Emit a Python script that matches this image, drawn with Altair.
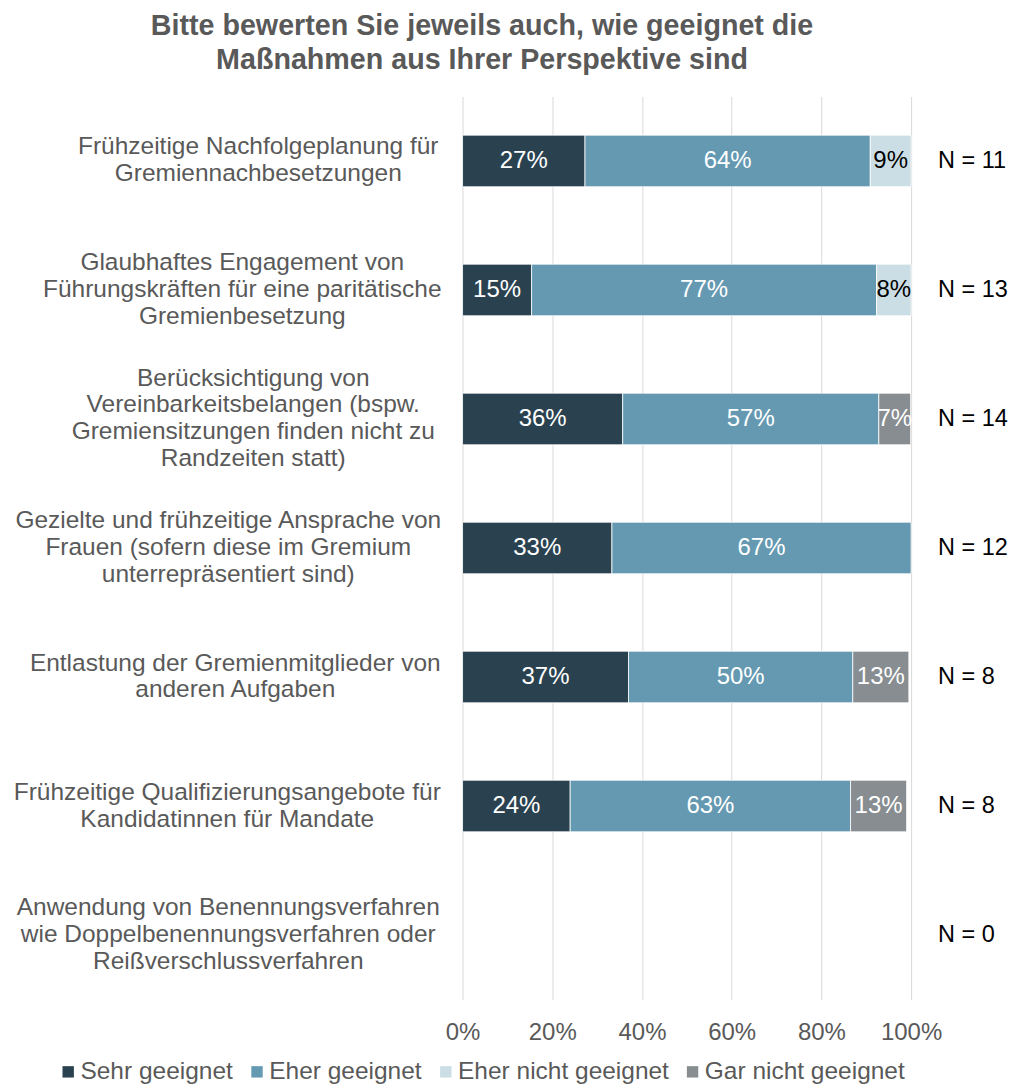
import altair as alt
import pandas as pd

categories = [
    "Frühzeitige Nachfolgeplanung für\nGremiennachbesetzungen",
    "Glaubhaftes Engagement von\nFührungskräften für eine paritätische\nGremienbesetzung",
    "Berücksichtigung von\nVereinbarkeitsbelangen (bspw.\nGremiensitzungen finden nicht zu\nRandzeiten statt)",
    "Gezielte und frühzeitige Ansprache von\nFrauen (sofern diese im Gremium\nunterrepräsentiert sind)",
    "Entlastung der Gremienmitglieder von\nanderen Aufgaben",
    "Frühzeitige Qualifizierungsangebote für\nKandidatinnen für Mandate",
    "Anwendung von Benennungsverfahren\nwie Doppelbenennungsverfahren oder\nReißverschlussverfahren",
]
n_values = [11, 13, 14, 12, 8, 8, 0]

series = ["Sehr geeignet", "Eher geeignet", "Eher nicht geeignet", "Gar nicht geeignet"]
sehr = [27.3, 15.4, 35.7, 33.3, 37.0, 24.0, 0]
eher = [63.6, 76.9, 57.1, 66.7, 50.0, 62.5, 0]
eher_nicht = [9.1, 7.7, 0, 0, 0, 0, 0]
gar_nicht = [0, 0, 7.1, 0, 12.5, 12.5, 0]
colors = ["#2a4250", "#6499b1", "#ccdee5", "#878d90"]

# distance from the plot edge to the centre of each (centre-aligned) label block
label_centre_pad = [205, 221, 210, 235, 228, 236, 235]

rows = []
for s_i, (s_name, vals) in enumerate(zip(series, [sehr, eher, eher_nicht, gar_nicht])):
    for cat, v in zip(categories, vals):
        if v > 0:
            rows.append({"category": cat, "series": s_name, "order": s_i,
                         "value": v / 100.0, "label": f"{int(v + 0.5)}%"})
df = pd.DataFrame(rows)
df_n = pd.DataFrame({"category": categories, "n": [f"N = {n}" for n in n_values]})

FONT = "Liberation Sans"
GRAY = "#595959"
LH = 27  # line height of the category labels

nl = "length(split(datum.label, '\\n'))"
label_offset = {
    "condition": [
        {"test": f"{nl} == 2", "value": -LH / 2},
        {"test": f"{nl} == 3", "value": -LH},
        {"test": f"{nl} == 4", "value": -1.5 * LH},
    ],
    "value": 0,
}
label_padding = {
    "condition": [
        {"test": f"indexof(datum.label, '{c.split(chr(10))[0]}') == 0", "value": p}
        for c, p in zip(categories, label_centre_pad)
    ],
    "value": 230,
}

y_enc = alt.Y(
    "category:N",
    sort=categories,
    scale=alt.Scale(domain=categories, paddingInner=0.6, paddingOuter=0.3),
    axis=alt.Axis(
        title=None, ticks=False, domain=False, grid=False,
        labelExpr="split(datum.label, '\\n')",
        labelAlign="center", labelBaseline="middle",
        labelPadding=label_padding, labelOffset=label_offset,
        labelFontSize=24.5, labelColor=GRAY, labelLineHeight=LH, labelLimit=0,
        labelFont=FONT,
    ),
)

x_scale = alt.Scale(domain=[0, 1])
x_axis = alt.Axis(
    title=None, format=".0%", values=[0, 0.2, 0.4, 0.6, 0.8, 1.0],
    grid=True, gridColor="#d9d9d9", gridWidth=1, ticks=False, domain=False,
    labelFontSize=24, labelColor=GRAY, labelPadding=21, labelFont=FONT,
    labelFlush=False,
)

base = alt.Chart(df).transform_stack(
    stack="value", groupby=["category"], as_=["v0", "v1"],
    sort=[alt.SortField("order", order="ascending")],
).transform_calculate(mid="(datum.v0 + datum.v1) / 2")

bars = base.mark_bar(stroke="white", strokeWidth=0.8).encode(
    x=alt.X("v0:Q", scale=x_scale, axis=x_axis),
    x2="v1:Q",
    y=y_enc,
    color=alt.Color(
        "series:N",
        scale=alt.Scale(domain=series, range=colors),
        legend=alt.Legend(
            title=None, orient="none", direction="horizontal", columns=4,
            legendX=-407, legendY=964,
            symbolType="square", symbolSize=130, symbolStrokeWidth=0,
            labelFontSize=24.5, labelColor=GRAY, labelFont=FONT,
            labelOffset=0, columnPadding=11, labelLimit=0,
        ),
    ),
)

texts = base.mark_text(fontSize=24, font=FONT).encode(
    x=alt.X("mid:Q", scale=x_scale),
    y=alt.Y("category:N", sort=categories),
    text="label:N",
    color=alt.condition(alt.datum.series == "Eher nicht geeignet",
                        alt.value("black"), alt.value("white")),
)

n_text = alt.Chart(df_n).mark_text(fontSize=23.5, font=FONT, align="left", color="black").encode(
    x=alt.datum(1.06, scale=x_scale),
    y=alt.Y("category:N", sort=categories),
    text="n:N",
)

chart = alt.layer(bars, texts, n_text).properties(
    width=449,
    height=904,
    padding={"left": 5, "top": 3, "right": 0, "bottom": 0},
    title=alt.TitleParams(
        text=["Bitte bewerten Sie jeweils auch, wie geeignet die",
              "Maßnahmen aus Ihrer Perspektive sind"],
        fontSize=28.7, fontWeight="bold", color=GRAY, font=FONT,
        lineHeight=34, anchor="middle", dx=-205, offset=22,
    ),
).configure(font=FONT).configure_view(stroke=None)

chart.save("out.html", embed_options={"renderer": "svg", "actions": False})
